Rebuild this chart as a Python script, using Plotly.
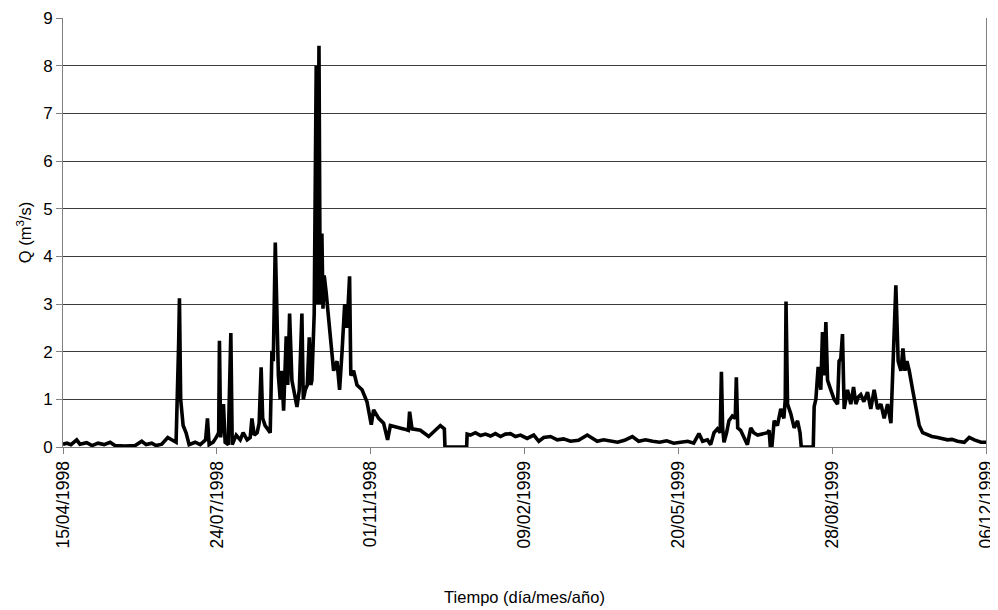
import pandas as pd
import plotly.graph_objects as go

# Caudal diario (m3/s); "dia" = días desde 15/04/1998
fecha_inicio = "1998-04-15"
fecha_fin = "1999-12-06"

dia = [
    0, 2.6, 5.2, 8.9, 11, 15.4, 18.9, 22.8, 26.7, 30.6, 33.8, 40.3, 46.9, 51.2, 54, 57.7,
    60.5, 64.2, 68.1, 71, 73.5, 75.2, 75.7, 76.5, 78.1, 80, 82, 85.9, 89.2, 92.7, 93.9, 95,
    97.6, 99.6, 101.2, 101.7, 102.5, 104.3, 105.4, 107.4, 109.1, 110, 112.6, 115.2, 117.1,
    119.7, 121.7, 122.8, 124.3, 126.2, 127.5, 128.8, 129.8, 131.4, 133.4, 134.7, 135.8,
    136.7, 138, 139, 140, 141.2, 142.2, 143.4, 145.1, 146.1, 147.3, 148.8, 150.3, 152.1,
    153.6, 155.3, 156.2, 157.5, 158.8, 160.1, 161.1, 161.8, 163.3, 164.6, 165.3, 166.4,
    167.2, 168.3, 169, 169.8, 171.1, 172.6, 174.9, 175.9, 178.1, 179.8, 181.4, 183.1,
    184.6, 186.3, 187.1, 188.9, 191.1, 194.4, 197.6, 200.4, 201.9, 205.2, 208.4, 211,
    212.8, 217.2, 221.4, 224.5, 225.3, 226.9, 232.3, 237.7, 241, 245.3, 247.9, 248.3,
    262.4, 262.7, 264.8, 268.1, 271.4, 274.6, 277.9, 281.1, 284.4, 287.6, 290.9, 294.1,
    297.4, 301.7, 306, 309.3, 312.5, 316.9, 321.3, 325.4, 329.9, 335.1, 340.8, 347.3,
    351.4, 355.9, 360.5, 365, 370.1, 374.2, 378.7, 383.3, 387.8, 392.4, 397, 401.5, 406.1,
    410, 413.4, 415.8, 418.9, 421, 423.2, 425.4, 427.2, 428, 428.8, 429.7, 431.4, 432.9,
    435.1, 437, 437.7, 438.6, 440.5, 442.7, 444.9, 447.1, 449, 451.5, 454.9, 458, 459,
    459.8, 460.8, 462.3, 464.4, 466.6, 468.6, 469.5, 470, 471, 473.1, 475.3, 477.5, 479.1,
    479.9, 487.7, 488.3, 489.4, 490.9, 492.6, 493.7, 494.9, 495.9, 497, 499.1, 501.3,
    503.5, 504.5, 505.6, 506.7, 507.8, 510, 512.1, 513.9, 515.4, 517, 518.6, 520.6, 523,
    525.1, 527.3, 529.5, 531.7, 533.8, 536, 538.2, 539.3, 541.4, 542.9, 544.7, 546, 547.3,
    548.6, 550.1, 552.3, 554.4, 556.6, 558.8, 562, 564.8, 568.5, 571.3, 575, 577.8, 581.5,
    585.9, 589.1, 592.4, 596.7, 600,
]

caudal = [
    0.06, 0.08, 0.05, 0.15, 0.06, 0.09, 0.03, 0.08, 0.05, 0.1, 0.03, 0.02, 0.03, 0.12, 0.05, 0.08,
    0.03, 0.06, 0.2, 0.15, 0.1, 2.2, 3.12, 1.0, 0.45, 0.3, 0.05, 0.1, 0.05, 0.15, 0.6, 0.05,
    0.1, 0.2, 0.3, 2.23, 0.2, 0.9, 0.1, 0.05, 2.39, 0.05, 0.25, 0.15, 0.3,
    0.15, 0.2, 0.6, 0.25, 0.3, 0.5, 1.67, 0.6, 0.45, 0.35, 0.3, 2.02,
    1.8, 4.29, 2.5, 1.5, 1.0, 1.6, 0.76, 2.32, 1.3, 2.8, 1.4, 1.1, 0.84,
    1.2, 2.8, 1.0, 1.2, 1.3, 2.3, 1.3, 1.4, 2.8, 8.0, 3.0, 8.42,
    3.0, 4.48, 2.9, 3.6, 3.23, 2.7, 2.0, 1.6, 1.8, 1.2, 2.0, 3.0,
    2.5, 3.58, 1.5, 1.6, 1.3, 1.2, 0.95, 0.47, 0.78, 0.6, 0.5, 0.15,
    0.45, 0.42, 0.38, 0.35, 0.74, 0.38, 0.35, 0.22, 0.33, 0.45, 0.38, 0.0,
    0.0, 0.27, 0.25, 0.3, 0.24, 0.27, 0.23, 0.28, 0.22, 0.27, 0.28, 0.22,
    0.25, 0.18, 0.25, 0.12, 0.2, 0.22, 0.15, 0.17, 0.12, 0.14, 0.25, 0.12,
    0.15, 0.12, 0.1, 0.14, 0.22, 0.12, 0.15, 0.12, 0.1, 0.13, 0.08, 0.1, 0.12,
    0.08, 0.28, 0.12, 0.15, 0.05, 0.3, 0.38, 0.3, 1.58, 0.4, 0.1, 0.3, 0.55,
    0.65, 0.6, 1.46, 0.4, 0.35, 0.2, 0.05, 0.4, 0.3, 0.25, 0.28, 0.3, 0.35,
    0.0, 0.0, 0.55, 0.45, 0.8, 0.6, 1.0, 3.05, 0.9, 0.7, 0.4, 0.55, 0.3,
    0.0, 0.0, 0.85, 1.0, 1.68, 1.2, 2.41, 1.5, 2.62, 1.4, 1.2, 1.0,
    0.9, 1.8, 1.85, 2.37, 0.8, 1.2, 0.9, 1.26, 0.9, 1.05, 1.1, 0.95, 1.15,
    0.8, 1.2, 0.8, 0.9, 0.6, 0.9, 0.5, 1.5, 3.39, 1.8, 1.6, 2.07, 1.6,
    1.8, 1.6, 1.2, 0.8, 0.45, 0.3, 0.25, 0.22, 0.2, 0.17, 0.15, 0.16, 0.12,
    0.1, 0.2, 0.15, 0.1, 0.1,
]

etiquetas_x = ["15/04/1998", "24/07/1998", "01/11/1998", "09/02/1999",
               "20/05/1999", "28/08/1999", "06/12/1999"]
valores_y = [0, 1, 2, 3, 4, 5, 6, 7, 8, 9]

inicio = pd.Timestamp(fecha_inicio)
fechas = inicio + pd.to_timedelta(dia, unit="D")
ticks_x = [pd.to_datetime(t, format="%d/%m/%Y") for t in etiquetas_x]

fig = go.Figure()
fig.add_trace(go.Scatter(
    x=fechas, y=caudal, mode="lines",
    line=dict(color="#000000", width=3.6),
    showlegend=False,
))

fnt = "Liberation Sans, Arial, sans-serif"
fig.update_layout(
    width=990, height=602,
    margin=dict(l=55, r=12, t=10, b=163),
    paper_bgcolor="white", plot_bgcolor="white",
    font=dict(family=fnt, size=16, color="#000000"),
    xaxis=dict(
        type="date", automargin=False,
        range=[inicio, pd.Timestamp(fecha_fin)],
        tickvals=ticks_x, ticktext=etiquetas_x, tickangle=-90,
        ticks="outside", ticklen=6, tickcolor="#808080",
        showgrid=False, zeroline=False,
        showline=True, linecolor="#808080", linewidth=1,
        tickfont=dict(size=17.5),
        title=dict(text="Tiempo (día/mes/año)", font=dict(size=16.5), standoff=43),
    ),
    yaxis=dict(
        range=[0, 9], tickvals=valores_y, automargin=False,
        ticks="outside", ticklen=6, tickcolor="#808080",
        showgrid=True, gridcolor="#3a3a3a", gridwidth=1,
        zeroline=False,
        showline=True, linecolor="#808080", linewidth=1, mirror=True,
        tickfont=dict(size=17),
        title=dict(text="Q (m<sup>3</sup>/s)", font=dict(size=16.5), standoff=7),
    ),
)

fig.write_html("out.html")
